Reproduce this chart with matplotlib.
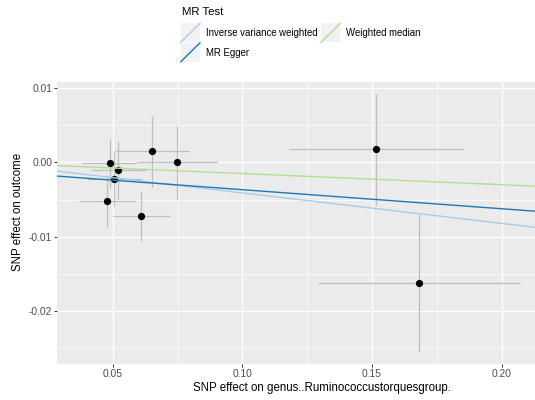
import numpy as np
import matplotlib
matplotlib.use('Agg')
import matplotlib.pyplot as plt
from matplotlib.patches import Rectangle

plt.rcParams['font.family'] = ['Liberation Sans', 'DejaVu Sans']

# SNP effects
snp_x = [0.0488, 0.0522, 0.0506, 0.0479, 0.0747, 0.0650, 0.0610, 0.1517, 0.1680]
snp_y = [-0.0001, -0.00108, -0.00225, -0.00516, 0.00004, 0.00148, -0.00718, 0.00175, -0.01624]
se_x = [0.0105, 0.0107, 0.0105, 0.0109, 0.0154, 0.0143, 0.0109, 0.0338, 0.0390]
se_y = [0.0033, 0.0038, 0.0036, 0.0035, 0.0049, 0.0048, 0.0034, 0.0075, 0.0093]

# MR fits
methods = ['Inverse variance weighted', 'MR Egger', 'Weighted median']
slopes = [-0.0410, -0.0256, -0.0150]
intercepts = [0.0, -0.00111, 0.0]
colors = ['#A6CEE3', '#1F78B4', '#B2DF8A']

xticks = [0.05, 0.10, 0.15, 0.20]
yticks = [-0.02, -0.01, 0.00, 0.01]

fig = plt.figure(figsize=(5.35, 4.0), dpi=100)
ax = fig.add_axes([0.1071, 0.09, 0.9895, 0.7058])
ax.set_facecolor('#EBEBEB')
for s in ax.spines.values():
    s.set_visible(False)

ax.set_xlim(0.0286, 0.2328)
ax.set_ylim(-0.0271, 0.01085)
ax.set_xticks(xticks)
ax.set_xticklabels(['%.2f' % v for v in xticks])
ax.set_yticks(yticks)
ax.set_yticklabels(['%.2f' % v for v in yticks])
ax.set_xticks([0.075, 0.125, 0.175, 0.225], minor=True)
ax.set_yticks([-0.025, -0.015, -0.005, 0.005], minor=True)
ax.grid(which='major', color='white', lw=1.0)
ax.grid(which='minor', color='white', lw=0.5)
ax.set_axisbelow(True)
ax.tick_params(which='major', length=2.2, width=0.7, color='#333333',
               labelsize=7.4, labelcolor='#4D4D4D', pad=1.5)
ax.tick_params(which='minor', length=0)

# error bars
ax.errorbar(snp_x, snp_y, xerr=se_x, yerr=se_y, fmt='none',
            ecolor='#BEBEBE', elinewidth=0.9, capsize=0, zorder=2)
ax.plot(snp_x, snp_y, 'o', color='black', ms=4.2, zorder=3)

for m, a, b, c in zip(methods, slopes, intercepts, colors):
    ax.axline((0, b), slope=a, color=c, lw=1.0, zorder=4)

ax.set_xlabel('SNP effect on genus..Ruminococcustorquesgroup.', fontsize=8.3)
ax.set_ylabel('SNP effect on outcome', fontsize=8.3)
ax.xaxis.set_label_coords(0.5, -0.064)
ax.yaxis.set_label_coords(-0.063, 0.537)

# legend drawn in pixel coordinates
lg = fig.add_axes([0, 0, 1, 1])
lg.set_xlim(0, 535)
lg.set_ylim(400, 0)
lg.axis('off')
lg.patch.set_alpha(0)
lg.text(181.5, 12, 'MR Test', fontsize=8.2, va='center', ha='left')
key_pos = [(180.7, 23.3), (180.7, 42.8), (321, 23.3)]
for (kx, ky), m, c in zip(key_pos, methods, colors):
    lg.add_patch(Rectangle((kx, ky), 19.3, 19, facecolor='#F2F2F2', edgecolor='none'))
    lg.plot([kx, kx + 19.3], [ky + 19, ky], color=c, lw=1.0)
    lg.text(kx + 25.5, ky + 9.8, m, fontsize=6.9, va='center', ha='left')

fig.savefig('out.png', dpi=100)
